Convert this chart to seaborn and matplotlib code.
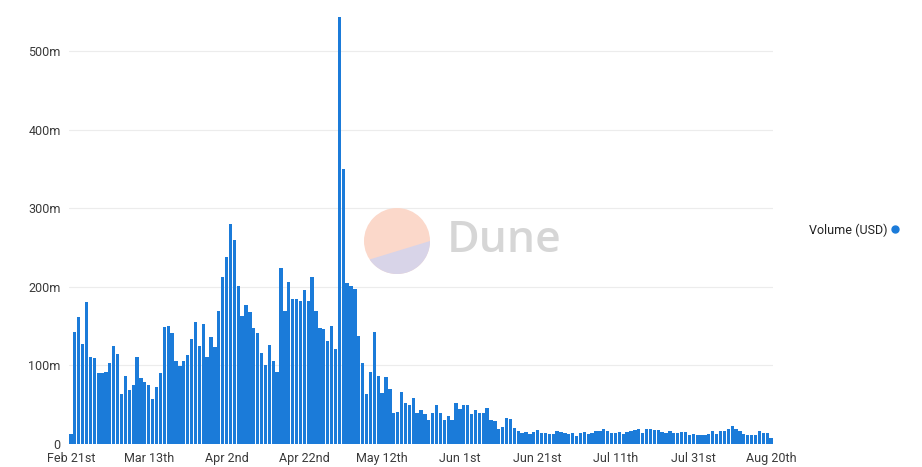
import numpy as np
import pandas as pd
import matplotlib
matplotlib.use("Agg")
import matplotlib.pyplot as plt
from matplotlib.lines import Line2D
from matplotlib.patches import Circle, Polygon
import seaborn as sns

sns.set_theme(style="white")
plt.rcParams["font.family"] = ["Roboto", "DejaVu Sans"]

# daily volume, millions of USD, Feb 21st .. Aug 20th
volume_m = [
    13, 143, 162, 127, 181, 111, 109, 90, 90, 92,
    103, 125, 115, 64, 86, 69, 75, 111, 84, 79,
    75, 57, 72, 90, 149, 150, 141, 105, 99, 106,
    113, 134, 155, 125, 153, 111, 136, 123, 169, 212,
    238, 280, 260, 201, 163, 177, 168, 147, 141, 116,
    100, 126, 105, 91, 224, 169, 206, 184, 184, 182,
    196, 182, 212, 169, 147, 146, 131, 150, 121, 543,
    350, 205, 201, 197, 137, 103, 63, 91, 143, 86,
    65, 85, 70, 39, 41, 66, 52, 50, 58, 40,
    43, 38, 31, 40, 50, 40, 30, 36, 31, 52,
    45, 49, 49, 38, 43, 40, 40, 46, 30, 29,
    19, 22, 33, 32, 20, 16, 14, 15, 13, 15,
    18, 14, 14, 13, 13, 17, 15, 14, 13, 14,
    10, 14, 15, 13, 14, 17, 17, 19, 16, 14,
    14, 15, 13, 15, 16, 18, 19, 14, 19, 19,
    18, 18, 15, 14, 16, 14, 14, 15, 15, 11,
    13, 12, 12, 12, 13, 17, 13, 16, 16, 19,
    23, 19, 16, 13, 12, 12, 12, 16, 14, 14,
    7,
]
dates = pd.date_range("2022-02-21", periods=len(volume_m), freq="D")
tick_labels = ["Feb 21st", "Mar 13th", "Apr 2nd", "Apr 22nd", "May 12th",
               "Jun 1st", "Jun 21st", "Jul 11th", "Jul 31st", "Aug 20th"]
y_ticks = [0, 100, 200, 300, 400, 500]
y_labels = ["0", "100m", "200m", "300m", "400m", "500m"]

df = pd.DataFrame({"day": np.arange(len(dates)), "volume": volume_m})

bar_color = "#1b7bd9"
W, H = 922, 467
fig = plt.figure(figsize=(W / 100, H / 100), dpi=100)
ax = fig.add_axes([69 / W, 23 / H, 704 / W, 434 / H])

sns.barplot(data=df, x="day", y="volume", color=bar_color, width=0.85,
            saturation=1, linewidth=0, ax=ax)

ax.set_xlim(-0.5, len(dates) - 0.5)
ax.set_ylim(0, 552)
ax.set_xticks(np.arange(0, len(dates), 20))
ax.set_xticklabels(tick_labels)
ax.set_yticks(y_ticks)
ax.set_yticklabels(y_labels)
ax.tick_params(axis="both", length=0, labelsize=9, colors="#3a3a3a")
ax.tick_params(axis="x", pad=6)
ax.tick_params(axis="y", pad=6)
ax.set_xlabel("")
ax.set_ylabel("")
ax.yaxis.grid(True, color="#ececec", linewidth=0.8)
ax.set_axisbelow(True)
for s in ax.spines.values():
    s.set_visible(False)

# legend on the right
handle = Line2D([], [], marker="o", linestyle="", color=bar_color, markersize=5)
fig.legend([handle], ["Volume (USD)"], loc="center left",
           bbox_to_anchor=(798 / W, 1 - 230 / H), frameon=False,
           markerfirst=False, handletextpad=0.1, handlelength=1.0,
           fontsize=9, labelcolor="#222222")

# Dune watermark
wm = fig.add_axes([(397 - 34) / W, 1 - (241 + 34) / H, 68 / W, 68 / H])
wm.set_xlim(-1.03, 1.03)
wm.set_ylim(-1.03, 1.03)
wm.set_aspect("equal")
wm.axis("off")
wm.add_patch(Circle((0, 0), 1, color="#fbd8ca", lw=0))
ang = np.linspace(np.deg2rad(214), np.deg2rad(360), 60)
wm.add_patch(Polygon(np.c_[np.cos(ang), np.sin(ang)], closed=True,
                     color="#d8d4e8", lw=0))
fig.text(447 / W, 1 - 240 / H, "Dune", fontsize=32, fontweight="semibold",
         color="#d6d6d6", va="center", ha="left",
         family=["Open Sans", "DejaVu Sans"])

fig.savefig("out.png", dpi=100)
